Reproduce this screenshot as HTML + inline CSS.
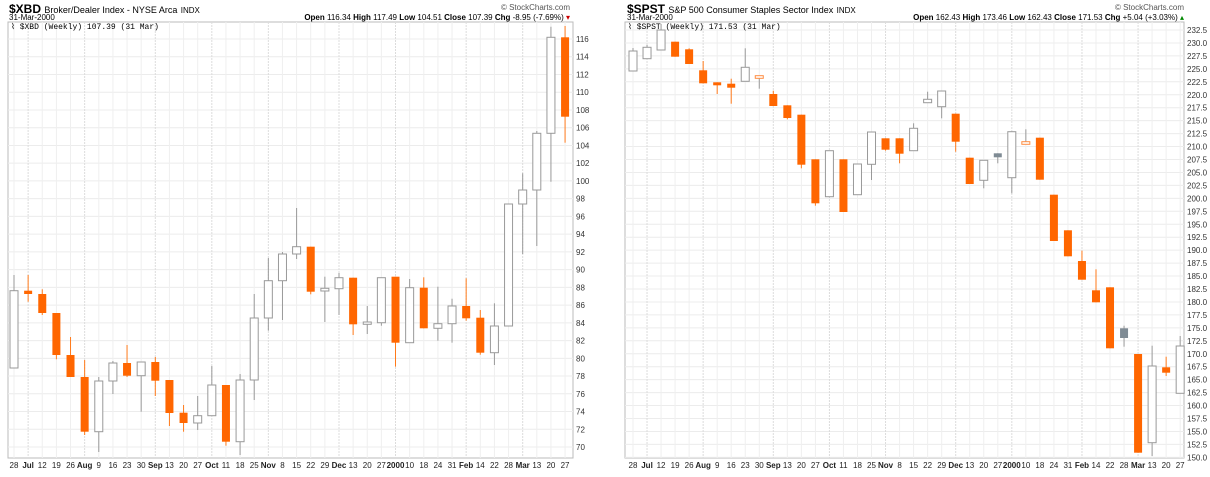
<!DOCTYPE html>
<html><head><meta charset="utf-8"><style>
body{margin:0;background:#fff;width:1210px;height:477px;overflow:hidden;font-family:"Liberation Sans",sans-serif}
svg{position:absolute;left:0;top:0}
</style></head><body>
<svg id="s" width="1210" height="477" xmlns="http://www.w3.org/2000/svg" font-family="Liberation Sans, sans-serif">
<text x="9" y="13" font-size="12" font-weight="bold">$XBD <tspan font-size="9" font-weight="normal">Broker/Dealer Index - NYSE Arca</tspan> <tspan font-size="8" font-weight="normal">INDX</tspan></text>
<text x="9" y="20" font-size="8">31-Mar-2000</text>
<text x="570" y="10" font-size="8" fill="#555" text-anchor="end">© StockCharts.com</text>
<text x="570" y="20" font-size="8" text-anchor="end"><tspan font-weight="bold">Open</tspan> 116.34 <tspan font-weight="bold">High</tspan> 117.49 <tspan font-weight="bold">Low</tspan> 104.51 <tspan font-weight="bold">Close</tspan> 107.39 <tspan font-weight="bold">Chg</tspan> -8.95 (-7.69%) <tspan fill="#c00">▾</tspan></text>
<text x="627" y="13" font-size="12" font-weight="bold">$SPST <tspan font-size="9" font-weight="normal">S&amp;P 500 Consumer Staples Sector Index</tspan> <tspan font-size="8" font-weight="normal">INDX</tspan></text>
<text x="627" y="20" font-size="8">31-Mar-2000</text>
<text x="1184" y="10" font-size="8" fill="#555" text-anchor="end">© StockCharts.com</text>
<text x="1184" y="20" font-size="8" text-anchor="end"><tspan font-weight="bold">Open</tspan> 162.43 <tspan font-weight="bold">High</tspan> 173.46 <tspan font-weight="bold">Low</tspan> 162.43 <tspan font-weight="bold">Close</tspan> 171.53 <tspan font-weight="bold">Chg</tspan> +5.04 (+3.03%) <tspan fill="#080">▴</tspan></text>
<g id="g"></g>
</svg>
<script>
var NS="http://www.w3.org/2000/svg",g=document.getElementById("g");
function el(t,a,txt){var e=document.createElementNS(NS,t);for(var k in a)e.setAttribute(k,a[k]);if(txt!=null)e.textContent=txt;g.appendChild(e);return e;}
var labels=["28","Jul","12","19","26","Aug","9","16","23","30","Sep","13","20","27","Oct","11","18","25","Nov","8","15","22","29","Dec","13","20","27","2000","10","18","24","31","Feb","14","22","28","Mar","13","20","27"];
var bold={"Jul":1,"Aug":1,"Sep":1,"Oct":1,"Nov":1,"Dec":1,"2000":1,"Feb":1,"Mar":1};
function chart(o){
 el("rect",{x:o.x0,y:22,width:o.x1-o.x0,height:436,fill:"#fff",stroke:"#bbb","stroke-width":1});
 o.ticks.forEach(function(t){el("line",{x1:o.x0,x2:o.x1,y1:t[0],y2:t[0],stroke:"#ececec","stroke-width":1});
  el("text",{x:o.x1+3,y:t[0]+3,"font-size":8,fill:"#333"},t[1]);});
 for(var i=0;i<40;i++){var x=o.cx0+o.dx*i;
  el("line",{x1:x,x2:x,y1:22,y2:458,stroke:bold[labels[i]]?"#dcdcdc":"#efefef","stroke-width":1,"stroke-dasharray":bold[labels[i]]?"2,1":""});
  el("text",{x:x,y:468,"font-size":8,"text-anchor":"middle","font-weight":bold[labels[i]]?"bold":"normal",fill:"#222"},labels[i]);}
 el("text",{x:o.x0+3,y:29,"font-size":8,"font-family":"Liberation Mono, monospace"},o.title);
 o.c.forEach(function(c,i){var x=o.cx0+o.dx*i,t=c[4];
  var col=t=="o"?"#ff6600":t=="g"?"#7f8b94":t=="w"?"#ff8c40":"#999";
  el("line",{x1:x,x2:x,y1:c[0],y2:c[3],stroke:t=="o"?"#ff7a1a":"#999","stroke-width":1});
  var h=Math.max(c[2]-c[1],2);
  if(t=="o"||t=="g")el("rect",{x:x-4,y:c[1],width:8,height:h,fill:col});
  else el("rect",{x:x-4,y:c[1],width:8,height:h,fill:"#fff",stroke:col,"stroke-width":1});
 });
}
var lt=[];for(var v=70;v<=116;v+=2)lt.push([39+(116-v)*8.87,""+v]);
chart({x0:8,x1:573,cx0:14,dx:14.13,ticks:lt,title:"\u2307 $XBD (Weekly) 107.39 (31 Mar)",c:[
[275,290.7,368,368,"h"],[275,290.7,294,301.7,"o"],[289.3,294,313,315,"o"],[313,313,355,359.3,"o"],[337,355,377,377,"o"],
[360,377,431.7,435,"o"],[377,381,431.7,452,"h"],[361,363,381,394,"h"],[345,363,375.7,377,"o"],[362,362,375.7,411.7,"h"],
[357,362,380.7,396,"o"],[380,380,413,426,"o"],[405,412.7,423,431.7,"o"],[396,415.7,423,430,"h"],[366,385,415.7,415.7,"h"],
[385,385,441.7,445.7,"o"],[374,380,441.7,455,"h"],[294,318,380,400,"h"],[258,280.7,318,330.7,"h"],[252,254,280.7,320,"h"],
[208,246.7,254,259,"h"],[246.7,246.7,291.7,294.3,"o"],[276.7,288.3,291,322,"h"],[273,277.7,288.7,315,"h"],[277.7,277.7,324.3,335,"o"],
[306,322,324.3,334,"h"],[277.7,277.7,322.7,325.7,"h"],[276.7,276.7,342.7,366.7,"o"],[279,287.7,342.7,342.7,"h"],[277.3,287.7,328.3,328.3,"o"],
[286.7,323.7,328.3,340.7,"h"],[298.7,306,323.7,342.7,"h"],[278.3,306,318.3,320.7,"o"],[310,317.7,352.7,354.7,"o"],[303.3,326,352.7,365,"h"],
[204,204,326,326,"h"],[173.3,190,204,254,"h"],[131,133.3,190,246,"h"],[26.7,37.3,133.3,181.7,"h"],[26,37.3,116.7,142.7,"o"]]});
var rt=[];for(var v=150;v<=232.5;v+=2.5)rt.push([30+(232.5-v)*5.18,v.toFixed(1)]);
chart({x0:625,x1:1184,cx0:633,dx:14.03,ticks:rt,title:"\u2307 $SPST (Weekly) 171.53 (31 Mar)",c:[
[48,51,71,71,"h"],[45,47.3,58.7,58.7,"h"],[24,30,50,50,"h"],[41.7,41.7,56.7,56.7,"o"],[48.3,49.3,64,64,"o"],
[61,70.3,83.3,83.3,"o"],[82.3,82.3,85.3,94,"o"],[78.7,83.7,87.7,103.7,"o"],[48.3,67.3,81.3,81.3,"h"],[75.7,75.7,78.3,88.7,"w"],
[90.7,94,106,106,"o"],[105.3,105.3,118,119.3,"o"],[114.7,114.7,164.7,168.3,"o"],[159.3,159.3,203.3,205.7,"o"],[150.7,150.7,196.7,197.3,"h"],
[159.3,159.3,212,212,"o"],[164,164,194.7,194.7,"h"],[132,132,164.3,180,"h"],[138.3,138.3,149.7,150.7,"o"],[138.3,138.3,153.7,163.3,"o"],
[123.3,128.3,150.7,150.7,"h"],[91.7,99.3,102.7,102.7,"h"],[91,91,106.7,118.3,"h"],[113.7,113.7,141.7,151.7,"o"],[157.7,157.7,184,184,"o"],
[160.3,160.3,180.3,188.3,"h"],[153.3,153.3,157.3,163.3,"g"],[131.7,131.7,177.7,193.3,"h"],[129.3,141.7,144.3,144.3,"w"],[137.7,137.7,179.7,179.7,"o"],
[194.7,194.7,241,241,"o"],[230.3,230.3,256.3,256.3,"o"],[250.7,261,279.7,279.7,"o"],[269.3,290.3,302.3,302.3,"o"],[287.3,287.3,348.3,348.3,"o"],
[325.7,328.3,338,346.7,"g"],[354,354,452.7,452.7,"o"],[345.7,366,442.7,456,"h"],[356.7,367.3,372.7,376,"o"],[336,346,393.3,393.3,"h"]]});
</script>
</body></html>
